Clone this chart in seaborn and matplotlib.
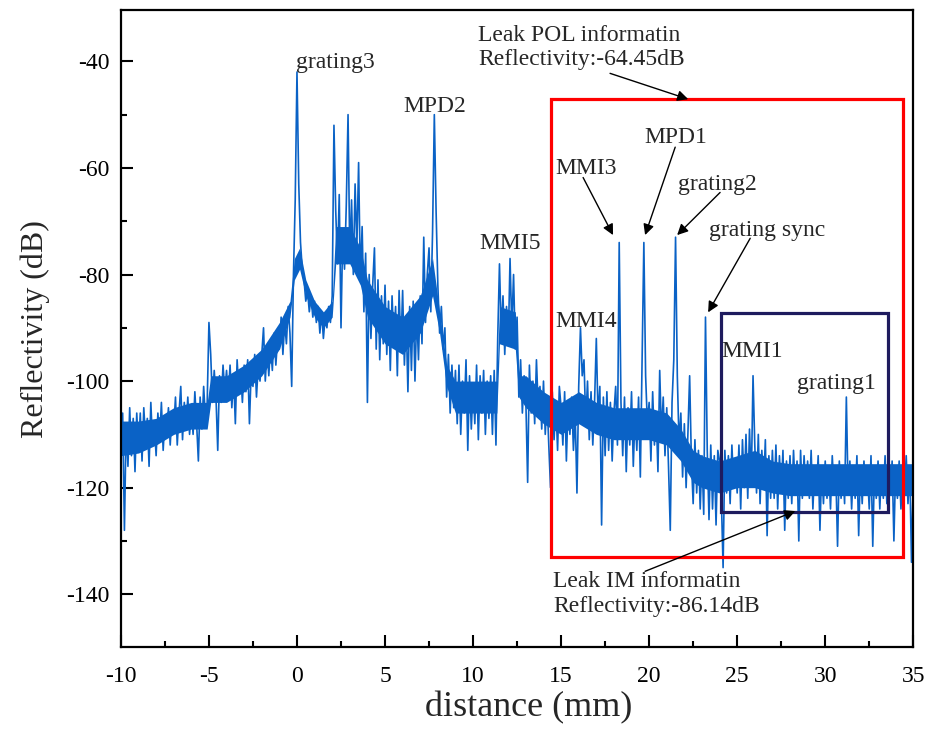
import numpy as np
import pandas as pd
import matplotlib
matplotlib.use("Agg")
import matplotlib.pyplot as plt
from matplotlib.patches import Rectangle
from matplotlib.ticker import MultipleLocator
import seaborn as sns

# Reflectivity trace, 0.1 mm steps from -10 to 35 mm
# (one row per mm, values in dB)
reflectivity = [
    -112, -106, -128, -108, -116, -105, -114, -107, -117, -106,   # -10
    -113, -106, -115, -105, -111, -107, -116, -104, -112, -108,   # -9
    -114, -106, -111, -104, -113, -107, -110, -105, -112, -106,   # -8
    -109, -103, -112, -106, -101, -111, -104, -109, -103, -110,   # -7
    -105, -110, -102, -108, -115, -103, -109, -101, -107, -104,   # -6
    -89, -95, -104, -98, -103, -113, -99, -104, -97, -102,        # -5
    -98, -103, -97, -105, -99, -108, -96, -102, -98, -104,        # -4
    -97, -102, -96, -108, -98, -101, -95, -103, -97, -100,        # -3
    -95, -90, -100, -94, -99, -93, -98, -91, -97, -92,            # -2
    -94, -88, -95, -89, -93, -86, -91, -101, -80, -66,            # -1
    -42, -63, -74, -79, -81, -85, -83, -87, -84, -88,             # 0
    -85, -89, -86, -91, -87, -92, -88, -90, -86, -89,             # 1
    -84, -52, -68, -78, -65, -90, -72, -79, -67, -50,             # 2
    -77, -66, -80, -63, -75, -59, -81, -71, -87, -76,             # 3
    -104, -80, -92, -82, -75, -94, -81, -96, -84, -93,           # 4
    -82, -95, -85, -98, -84, -93, -86, -99, -83, -94,             # 5
    -83, -97, -88, -102, -86, -98, -85, -100, -87, -96,           # 6
    -84, -93, -73, -89, -80, -75, -87, -72, -50, -68,             # 7
    -82, -91, -86, -94, -90, -103, -95, -106, -97, -105,          # 8
    -98, -108, -97, -110, -100, -106, -96, -113, -99, -109,       # 9
    -101, -108, -97, -111, -99, -106, -98, -110, -100, -107,      # 10
    -99, -110, -98, -112, -92, -78, -91, -84, -95, -86,           # 11
    -93, -77, -90, -80, -94, -88, -103, -96, -106, -99,           # 12
    -104, -119, -97, -106, -100, -108, -96, -105, -101, -109,     # 13
    -100, -110, -103, -112, -120, -102, -111, -104, -113, -101,   # 14
    -105, -112, -102, -115, -104, -110, -103, -113, -106, -121,   # 15
    -101, -90, -99, -96, -108, -100, -111, -102, -112, -104,      # 16
    -92, -107, -101, -127, -103, -114, -102, -113, -104, -115,    # 17
    -106, -101, -112, -74, -104, -114, -103, -117, -105, -112,    # 18
    -102, -116, -106, -113, -103, -118, -96, -74, -99, -108,      # 19
    -104, -115, -102, -112, -106, -117, -98, -110, -103, -114,    # 20
    -105, -116, -128, -104, -96, -73, -99, -112, -106, -118,      # 21
    -108, -120, -110, -99, -115, -123, -111, -121, -113, -124,    # 22
    -114, -125, -88, -113, -126, -112, -124, -114, -127, -113,    # 23
    -115, -122, -135, -113, -121, -114, -123, -112, -120, -115,   # 24
    -121, -112, -124, -111, -120, -110, -122, -109, -119, -99,    # 25
    -112, -121, -110, -123, -113, -120, -111, -129, -114, -122,   # 26
    -113, -122, -112, -124, -114, -121, -113, -128, -115, -122,   # 27
    -114, -123, -113, -121, -115, -130, -113, -122, -114, -121,   # 28
    -115, -122, -113, -124, -116, -121, -114, -128, -116, -123,   # 29
    -115, -122, -116, -124, -114, -121, -117, -131, -115, -122,   # 30
    -116, -123, -103, -121, -115, -124, -116, -122, -114, -129,   # 31
    -116, -123, -115, -121, -117, -124, -114, -131, -116, -122,   # 32
    -115, -124, -116, -122, -114, -123, -117, -121, -115, -130,   # 33
    -116, -122, -115, -124, -117, -121, -114, -123, -116, -134,   # 34
    -118,                                                         # 35
]
distance = np.round(np.linspace(-10, 35, len(reflectivity)), 1)

# densest core of the noise band
core_x = [-10, -9, -8, -7, -6, -5.1, -4.9, -4, -3, -2, -1, -0.4, -0.15, 0.15,
          0.5, 1, 1.5, 2.0, 2.2, 3, 3.6, 4, 5, 6, 7, 7.3, 7.7, 8.1, 8.5, 9,
          10, 11, 11.35, 11.5, 12.4, 12.6, 13, 14, 15, 16, 17, 18, 19, 20, 21,
          21.8, 22.5, 23, 24, 25, 26, 27, 28, 29, 30, 31, 32, 33, 34, 35]
core_hi = [-107.5, -107.5, -107, -105, -104, -104, -99, -99, -97, -94, -89,
           -85, -77, -75, -81, -85, -87, -85, -71, -71, -75, -81, -86, -88,
           -84, -81, -77, -87, -97, -100, -100, -100, -100, -86, -87, -99,
           -99, -102, -104, -102, -104, -105, -105, -105, -106, -109, -113,
           -114, -115, -114, -113, -115, -115.5, -115.5, -115.5, -115.5,
           -115.5, -115.5, -115.5, -115.5]
core_lo = [-114, -113.5, -112, -110, -109, -109, -104, -104, -102, -99, -94,
           -88, -81, -79, -84, -88, -90, -88, -78, -78, -82, -88, -93, -95,
           -91, -88, -84, -91, -101, -106, -106, -106, -106, -93, -94, -103,
           -105, -108, -110, -108, -110, -111, -111, -111, -112, -115, -119,
           -120, -121, -120, -120, -121, -121.5, -121.5, -121.5, -121.5,
           -121.5, -121.5, -121.5, -121.5]

# peak labels: text, x, y
peak_labels = ["grating3", "MPD2", "MMI5", "MMI4", "MMI1", "grating1"]
peak_label_x = [2.2, 7.85, 12.1, 16.4, 25.85, 30.65]
peak_label_y = [-40.2, -48.4, -74.1, -88.8, -94.4, -100.4]

# arrow labels: text, text position, arrow tip
arrow_labels = ["MMI3", "MPD1", "grating2", "grating sync"]
arrow_text_x = [16.42, 21.53, 23.86, 26.7]
arrow_text_y = [-60.1, -54.3, -63.1, -71.7]
arrow_tail_x = [16.25, 21.48, 24.03, 25.74]
arrow_tail_y = [-61.8, -56.1, -64.6, -73.2]
arrow_tip_x = [17.95, 19.77, 21.59, 23.35]
arrow_tip_y = [-72.6, -72.6, -72.6, -87.1]

# boxes (x0, x1, y0, y1)
pol_box = [14.43, 34.43, -133.0, -47.1]
im_box = [24.09, 33.58, -124.6, -87.2]

assert len(core_x) == len(core_hi) == len(core_lo)
df = pd.DataFrame({"distance": distance, "reflectivity": reflectivity})

sns.set_style("ticks")
plt.rcParams["font.family"] = ["Liberation Serif", "DejaVu Serif"]
plt.rcParams["axes.unicode_minus"] = False

blue = "#0A62C6"
fig = plt.figure(figsize=(9.3, 7.29), dpi=100)
ax = fig.add_axes([0.130, 0.1125, 0.852, 0.8735])

ax.fill_between(core_x, core_lo, core_hi, color=blue, linewidth=0)
sns.lineplot(data=df, x="distance", y="reflectivity", color=blue,
             linewidth=1.2, ax=ax, estimator=None)

ax.set_xlim(-10, 35)
ax.set_ylim(-149.9, -30.4)
ax.xaxis.set_major_locator(MultipleLocator(5))
ax.xaxis.set_minor_locator(MultipleLocator(2.5))
ax.yaxis.set_major_locator(MultipleLocator(20))
ax.yaxis.set_minor_locator(MultipleLocator(10))
ax.tick_params(which="both", direction="in", width=1.5, labelsize=17,
               top=False, right=False, colors="black")
ax.tick_params(which="major", length=8.5, pad=8)
ax.tick_params(axis="x", which="major", pad=14)
ax.tick_params(which="minor", length=4.5)
for s in ax.spines.values():
    s.set_linewidth(1.6)
    s.set_color("black")
    s.set_visible(True)

ax.set_xlabel("distance (mm)", fontsize=26, labelpad=3)
ax.xaxis.label.set_x(0.515)
ax.set_ylabel("Reflectivity (dB)", fontsize=23, labelpad=12)

# boxes
ax.add_patch(Rectangle((pol_box[0], pol_box[2]), pol_box[1] - pol_box[0],
                       pol_box[3] - pol_box[2], fill=False,
                       edgecolor="#FF0000", linewidth=2.3, zorder=3))
ax.add_patch(Rectangle((im_box[0], im_box[2]), im_box[1] - im_box[0],
                       im_box[3] - im_box[2], fill=False,
                       edgecolor="#1E1B5E", linewidth=2.3, zorder=3))

for t, x, y in zip(peak_labels, peak_label_x, peak_label_y):
    ax.text(x, y, t, fontsize=17, ha="center", va="center")

arrow_kw = dict(arrowstyle="-|>", color="black", lw=1.0, mutation_scale=16,
                shrinkA=0, shrinkB=0)
for i, t in enumerate(arrow_labels):
    ax.text(arrow_text_x[i], arrow_text_y[i], t, fontsize=17,
            ha="center", va="center")
    ax.annotate("", xy=(arrow_tip_x[i], arrow_tip_y[i]),
                xytext=(arrow_tail_x[i], arrow_tail_y[i]), arrowprops=arrow_kw)

ax.text(10.28, -37.4, "Leak POL informatin\nReflectivity:-64.45dB",
        fontsize=17, ha="left", va="center", linespacing=1.15)
ax.annotate("", xy=(22.22, -47.1), xytext=(17.78, -42.25), arrowprops=arrow_kw)

ax.text(14.55, -140.0, "Leak IM informatin\nReflectivity:-86.14dB",
        fontsize=17, ha="left", va="center", linespacing=1.25)
ax.annotate("", xy=(28.3, -124.4), xytext=(19.77, -135.7), arrowprops=arrow_kw)

fig.savefig("out.png", dpi=100)
